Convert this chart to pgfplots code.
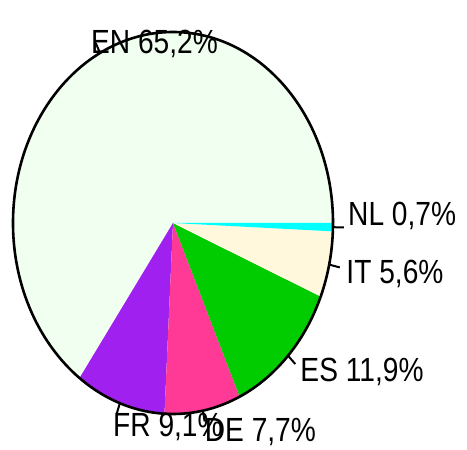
\documentclass[border=0pt]{standalone}
\usepackage{pgfplots}
\usepackage{pgfplotstable}
\usepackage{etoolbox}
\pgfplotsset{compat=1.18}
\usepackage{fontspec}
\setmainfont{Liberation Sans}[FakeStretch=0.84]

\definecolor{enc}{RGB}{240,255,240}
\definecolor{frc}{RGB}{160,32,240}
\definecolor{dec}{RGB}{255,58,150}
\definecolor{esc}{RGB}{0,204,0}
\definecolor{itc}{RGB}{255,248,220}
\definecolor{nlc}{RGB}{0,255,255}

\pgfplotstableread{
lang pct col
EN 65.2 enc
FR 9.1 frc
DE 7.7 dec
ES 11.9 esc
IT 5.6 itc
NL 0.7 nlc
}\pietable

\newcommand{\lab}{\fontsize{33.5}{40}\selectfont}

\begin{document}
\begin{tikzpicture}
\pgfplotstablegetrowsof{\pietable}
\pgfmathtruncatemacro{\lastrow}{\pgfplotsretval-1}
\def\total{0}
\pgfplotsforeachungrouped \i in {0,...,\lastrow}{%
  \pgfplotstablegetelem{\i}{pct}\of\pietable
  \pgfmathsetmacro{\total}{\total+\pgfplotsretval}%
}
\def\cum{0}
\def\slices{}
\def\ticks{}
\pgfplotsforeachungrouped \i in {0,...,\lastrow}{%
  \pgfplotstablegetelem{\i}{pct}\of\pietable \let\pv\pgfplotsretval
  \pgfplotstablegetelem{\i}{col}\of\pietable \let\colname\pgfplotsretval
  \pgfmathsetmacro{\sa}{360*(\cum/\total)}%
  \pgfmathsetmacro{\cum}{\cum+\pv}%
  \pgfmathsetmacro{\sb}{360*(\cum/\total)}%
  \pgfmathsetmacro{\sm}{(\sa+\sb)/2}%
  \pgfmathsetmacro{\xa}{cos(\sa)}%
  \pgfmathsetmacro{\ya}{sin(\sa)}%
  \pgfmathsetmacro{\xm}{cos(\sm)}%
  \pgfmathsetmacro{\ym}{sin(\sm)}%
  \pgfmathsetmacro{\dm}{atan2(1.91*sin(\sm),1.6*cos(\sm))}%
  \xappto\slices{\noexpand\fill[\colname] (axis cs:0,0) -- (axis cs:\xa,\ya) arc[start angle=\sa, end angle=\sb, x radius=160pt, y radius=191pt] -- cycle;}%
  \xappto\ticks{\noexpand\draw[line width=2pt] (axis cs:\xm,\ym) -- ++(\dm:11pt);}%
}
\begin{axis}[
  width=467pt, height=450pt, scale only axis,
  xmin=-1.08125, xmax=1.8375, ymin=-1.18848, ymax=1.16754,
  hide axis, clip=false]
\slices
\draw[line width=2.6pt] (axis cs:0,0) ellipse[x radius=160pt, y radius=191pt];
\ticks
\node[anchor=base west, inner sep=0pt, font=\lab] at (axis cs:-0.5125,0.8885) {EN 65,2\%};
\node[anchor=base west, inner sep=0pt, font=\lab] at (axis cs:1.09375,-0.0157) {NL 0,7\%};
\node[anchor=base west, inner sep=0pt, font=\lab] at (axis cs:1.0831,-0.3157) {IT 5,6\%};
\node[anchor=base west, inner sep=0pt, font=\lab] at (axis cs:0.7956,-0.8309) {ES 11,9\%};
\node[anchor=base west, inner sep=0pt, font=\lab] at (axis cs:-0.375,-1.1188) {FR 9,1\%};
\node[anchor=base west, inner sep=0pt, font=\lab] at (axis cs:0.198,-1.1466) {DE 7,7\%};
\end{axis}
\pgfresetboundingbox
\useasboundingbox (current axis.south west) rectangle (current axis.north east);
\end{tikzpicture}
\end{document}
